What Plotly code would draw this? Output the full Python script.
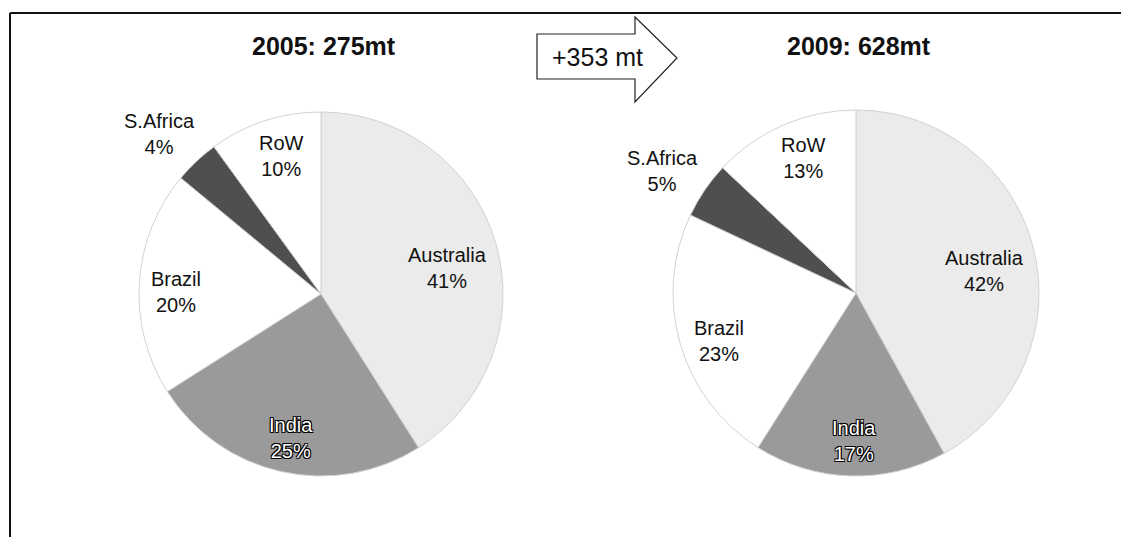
import math
import plotly.graph_objects as go

W, H = 1121, 537

# Market shares by origin (percent), clockwise from 12 o'clock
categories = ["Australia", "India", "Brazil", "S.Africa", "RoW"]
share_2005 = [41, 25, 20, 4, 10]
share_2009 = [42, 17, 23, 5, 13]
years = [2005, 2009]
totals_mt = [275, 628]

colors = ["#ebebeb", "#9a9a9a", "#ffffff", "#4f4f4f", "#ffffff"]
# label placement: fraction of radius, angular nudge (degrees) from slice middle
label_place = {"Australia": (0.71, 4.7), "India": (0.81, -0.9), "Brazil": (0.795, -3.0),
               "S.Africa": (1.25, -2.0), "RoW": (0.79, 2.0)}

# pie geometry in pixels: centre x, centre y (from top), radius
pies = [(321, 294, 182), (856, 293, 183)]

FONT = "Liberation Sans, Arial, sans-serif"


def px(x):
    return x / W


def py(y):
    return 1 - y / H


fig = go.Figure()
annotations = []

for shares, year, total, (cx, cy, r) in zip([share_2005, share_2009], years, totals_mt, pies):
    fig.add_trace(go.Pie(
        labels=categories,
        values=shares,
        sort=False,
        direction="clockwise",
        rotation=0,
        textinfo="none",
        hoverinfo="label+percent",
        showlegend=False,
        marker=dict(colors=colors, line=dict(color="#d2d2d2", width=1)),
        domain=dict(x=[px(cx - r), px(cx + r)], y=[py(cy + r), py(cy - r)]),
    ))

    # slice labels near the mid-angle of each slice
    start = 0.0
    tot = sum(shares)
    for cat, v in zip(categories, shares):
        span = 360.0 * v / tot
        k, nudge = label_place[cat]
        mid = math.radians(start + span / 2 + nudge)
        start += span
        lx = cx + k * r * math.sin(mid)
        ly = cy - k * r * math.cos(mid)
        is_india = cat == "India"
        annotations.append(dict(
            x=px(lx), y=py(ly), xref="paper", yref="paper",
            text=f"{cat}<br>{v}%", showarrow=False,
            font=dict(family=FONT, size=20,
                      color="white" if is_india else "#111111",
                      shadow=("1px 1px 0 #000, -1px -1px 0 #000, 1px -1px 0 #000, -1px 1px 0 #000"
                              if is_india else "none")),
            xanchor="center", yanchor="middle",
        ))

    # title above each pie
    annotations.append(dict(
        x=px(cx + 3), y=py(46), xref="paper", yref="paper",
        text=f"<b>{year}: {total}mt</b>", showarrow=False,
        font=dict(family=FONT, size=25, color="#111111"),
        xanchor="center", yanchor="middle",
    ))

# growth arrow between the two pies
growth = totals_mt[1] - totals_mt[0]
arrow_pts = [(537, 34), (635, 34), (635, 17), (677, 58), (635, 102), (635, 79), (537, 79)]
path = "M " + " L ".join(f"{px(x)},{py(y)}" for x, y in arrow_pts) + " Z"
shapes = [
    dict(type="path", path=path, xref="paper", yref="paper",
         line=dict(color="#222222", width=1.2), fillcolor="white"),
    # frame: top and left rules
    dict(type="line", xref="paper", yref="paper", x0=px(10), y0=py(13), x1=px(1121), y1=py(13),
         line=dict(color="#111111", width=2)),
    dict(type="line", xref="paper", yref="paper", x0=px(10), y0=py(13), x1=px(10), y1=py(537),
         line=dict(color="#111111", width=2)),
]
annotations.append(dict(
    x=px(598), y=py(57), xref="paper", yref="paper",
    text=f"+{growth} mt", showarrow=False,
    font=dict(family=FONT, size=25, color="#111111"),
    xanchor="center", yanchor="middle",
))

fig.update_layout(
    width=W, height=H,
    margin=dict(l=0, r=0, t=0, b=0),
    paper_bgcolor="white", plot_bgcolor="white",
    annotations=annotations, shapes=shapes,
)

fig.write_html("out.html")
